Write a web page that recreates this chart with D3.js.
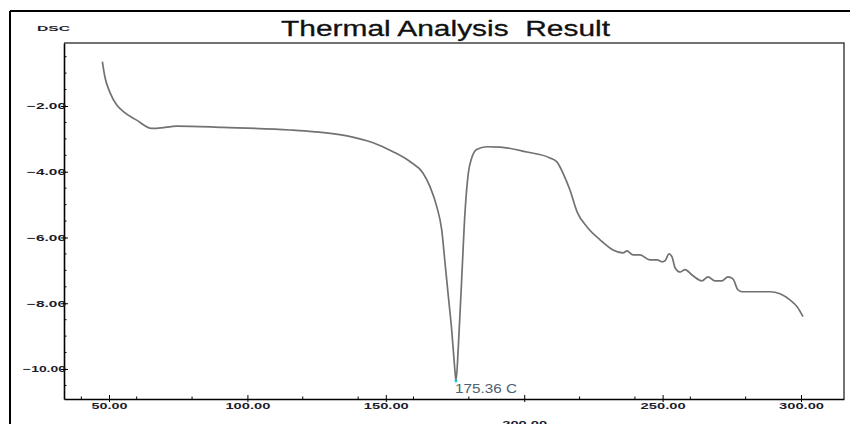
<!DOCTYPE html>
<html>
<head>
<meta charset="utf-8">
<script src="https://cdn.jsdelivr.net/npm/d3@7"></script>
<style>
  body { margin: 0; background: #fff; }
  svg { display: block; }
</style>
</head>
<body>
<div id="chart"></div>
<script>
// temperature (C) and DSC signal
var temps = [47.6, 48.5, 50.4, 52.8, 55.2, 60.0, 65.4, 67.2, 74.5, 91.2, 115.4, 123.7, 136.0, 145.4, 152.6,
  158.7, 163.4, 166.0, 168.4, 170.2, 171.4, 172.6, 173.8, 174.75, 175.36, 176.2, 177.4, 178.6, 179.8, 181.0,
  182.8, 186.5, 191.3, 201.0, 209.3, 211.8, 214.0, 216.5, 219.1, 222.7, 227.4, 232.1, 235.7, 237.1, 239.3, 241.8,
  245.4, 248.0, 249.8, 250.9, 252.3, 253.4, 254.5, 256.3, 258.1, 260.6, 264.2, 266.4, 268.9, 271.4, 273.6,
  275.4, 277.2, 278.7, 282.7, 288.8, 292.4, 296.0, 298.6, 300.7];
var dsc = [-0.65, -1.11, -1.60, -1.97, -2.17, -2.43, -2.68, -2.68, -2.61, -2.65, -2.73, -2.78, -2.91, -3.12, -3.39,
  -3.69, -4.04, -4.46, -5.06, -5.77, -6.78, -7.80, -8.81, -9.82, -10.36, -9.32, -7.29, -5.25, -4.05, -3.59,
  -3.32, -3.24, -3.25, -3.40, -3.58, -3.70, -4.04, -4.55, -5.22, -5.68, -6.07, -6.38, -6.47, -6.41, -6.53, -6.53,
  -6.68, -6.68, -6.74, -6.71, -6.50, -6.59, -6.92, -7.05, -6.98, -7.14, -7.32, -7.20, -7.32, -7.32, -7.20,
  -7.26, -7.59, -7.65, -7.65, -7.65, -7.71, -7.90, -8.11, -8.41];
var peakTemp = 175.36, peakDsc = -10.36;
var peakLabel = "175.36 C";

var xMajor = [50, 100, 150, 200, 250, 300];
var xMinor = [40, 60, 80, 120, 140, 160, 180, 220, 240, 260, 280];
var yMajor = [-2, -4, -6, -8, -10];
var yMinor = [-0.5, -1, -1.5, -2.5, -3, -3.5, -4.5, -5, -5.5, -6.5, -7, -7.5, -8.5, -9, -9.5, -10.5];

(function () {
var w = 850, h = 424;
var pLeft = 64, pRight = 844, pTop = 43, pBottom = 399;

var svg = d3.select('#chart').append('svg')
    .attr('width', w)
    .attr('height', h);

// outer frame (only left + top visible)
svg.append('line').attr('x1', 10).attr('x2', 10).attr('y1', 11).attr('y2', h)
    .attr('stroke', '#000').attr('stroke-width', 2);
svg.append('line').attr('x1', 10).attr('x2', w).attr('y1', 11).attr('y2', 11)
    .attr('stroke', '#000').attr('stroke-width', 2);

var xscale = d3.scaleLinear().domain([33.74, 315.53]).range([pLeft, pRight]);
var yscale = d3.scaleLinear().domain([-10.913, -0.084]).range([pBottom, pTop]);

// plot box top/right
svg.append('path')
    .attr('d', 'M' + pLeft + ',' + pTop + 'H' + pRight + 'V' + pBottom)
    .attr('fill', 'none')
    .attr('stroke', '#444')
    .attr('stroke-width', 1.5);

var labelColor = '#1c1c2c';
var fmt = d3.format('.2f');

// x axis
var xaxis = d3.axisBottom(xscale).tickValues(xMajor).tickSize(0).tickPadding(0).tickFormat(fmt);
var gx = svg.append('g')
    .attr('class', 'axis x')
    .attr('transform', 'translate(0,' + pBottom + ')')
    .call(xaxis);
gx.select('.domain').attr('stroke', '#000').attr('stroke-width', 1.6);
gx.selectAll('.tick line').remove();
gx.selectAll('.tick').append('line')
    .attr('y1', -4).attr('y2', 3).attr('stroke', '#000').attr('stroke-width', 1);
gx.selectAll('.tick text')
    .attr('y', 10).attr('dy', 0)
    .attr('fill', labelColor)
    .style('font', 'bold 8.5px "Liberation Sans", Arial, sans-serif')
    .attr('textLength', d => 9 * (fmt(d).length - 1))
    .attr('lengthAdjust', 'spacingAndGlyphs');
// the 200 label sits lower, partly off the picture
gx.selectAll('.tick text').filter(d => d === 200).attr('y', 27.5);

gx.selectAll('.minor').data(xMinor).enter().append('line')
    .attr('class', 'minor')
    .attr('x1', d => xscale(d)).attr('x2', d => xscale(d))
    .attr('y1', -2.5).attr('y2', 0)
    .attr('stroke', '#000').attr('stroke-width', 1);

// y axis
var yaxis = d3.axisLeft(yscale).tickValues(yMajor).tickSize(0).tickPadding(0).tickFormat(fmt);
var gy = svg.append('g')
    .attr('class', 'axis y')
    .attr('transform', 'translate(' + pLeft + ',0)')
    .call(yaxis);
gy.select('.domain').attr('stroke', '#000').attr('stroke-width', 1.6);
gy.selectAll('.tick line').remove();
gy.selectAll('.tick').append('line')
    .attr('x1', -3).attr('x2', 4).attr('stroke', '#000').attr('stroke-width', 1);
gy.selectAll('.tick text')
    .attr('x', 2).attr('dy', '0.35em')
    .attr('fill', labelColor)
    .style('font', 'bold 8.5px "Liberation Sans", Arial, sans-serif')
    .attr('textLength', d => 4 * fmt(d).length + 19)
    .attr('lengthAdjust', 'spacingAndGlyphs');
gy.selectAll('.minor').data(yMinor).enter().append('line')
    .attr('class', 'minor')
    .attr('y1', d => yscale(d)).attr('y2', d => yscale(d))
    .attr('x1', 0).attr('x2', 2.5)
    .attr('stroke', '#000').attr('stroke-width', 1);

// DSC label
svg.append('text')
    .attr('x', 37).attr('y', 30.5)
    .attr('fill', labelColor)
    .style('font', 'bold 7px "Liberation Sans", Arial, sans-serif')
    .attr('textLength', 33).attr('lengthAdjust', 'spacingAndGlyphs')
    .text('DSC');

// title
svg.append('text')
    .attr('x', 281).attr('y', 36)
    .attr('fill', '#111')
    .style('white-space', 'pre')
    .style('font', '22px "Liberation Sans", Arial, sans-serif')
    .style('stroke', '#111').style('stroke-width', 0.3)
    .attr('textLength', 329).attr('lengthAdjust', 'spacingAndGlyphs')
    .text('Thermal Analysis  Result');

// curve
var data = temps.map((t, i) => ({t: t, v: dsc[i]}));
var line = d3.line()
    .x(d => xscale(d.t))
    .y(d => yscale(d.v))
    .curve(d3.curveMonotoneX);
svg.append('path')
    .datum(data)
    .attr('d', line)
    .attr('fill', 'none')
    .attr('stroke', '#727272')
    .attr('stroke-width', 1.7)
    .attr('stroke-linejoin', 'round');

// peak marker + label
svg.append('circle')
    .attr('cx', xscale(peakTemp)).attr('cy', yscale(peakDsc))
    .attr('r', 1.6).attr('fill', '#22c4d4');
svg.append('text')
    .attr('x', xscale(peakTemp) - 1).attr('y', yscale(peakDsc) + 12)
    .attr('fill', '#4f6070')
    .style('font', '12px "Liberation Sans", Arial, sans-serif')
    .attr('textLength', 62).attr('lengthAdjust', 'spacingAndGlyphs')
    .text(peakLabel);
})();
</script>
</body>
</html>
